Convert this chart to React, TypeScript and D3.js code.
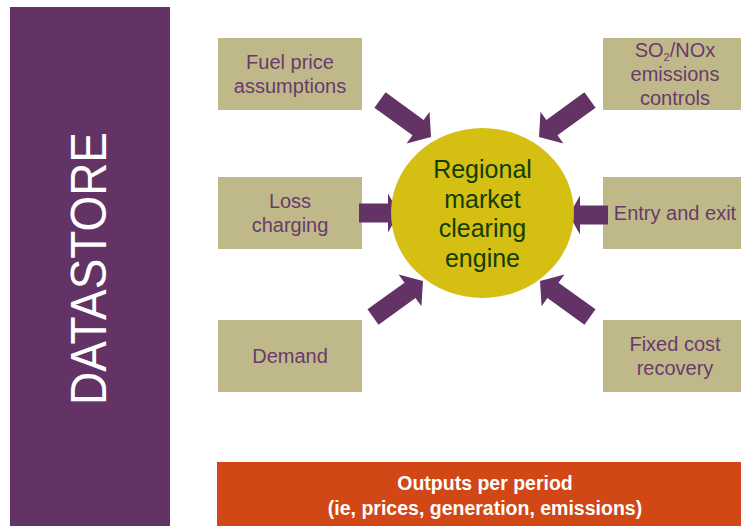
import React from 'react';
import * as d3 from 'd3';

// labels for the diagram
const storeLabel = 'DATASTORE';
const engineLines = ['Regional', 'market', 'clearing', 'engine'];
const leftInputs = [['Fuel price', 'assumptions'], ['Loss', 'charging'], ['Demand']];
const rightInputs = [['SO2/NOx', 'emissions', 'controls'], ['Entry and exit'], ['Fixed cost', 'recovery']];
const outputLines = ['Outputs per period', '(ie, prices, generation, emissions)'];

const W = 741;
const H = 526;
const FONT = '"Liberation Sans", Arial, Helvetica, sans-serif';

const PURPLE = '#643366';
const KHAKI = '#bfb98a';
const YELLOW = '#d4bf12';
const ORANGE = '#d14716';
const TEXT_PURPLE = '#6a3a6c';
const GREEN = '#123d05';

const rowY = [38, 177, 320];
const boxH = 72;

// arrow: tail centre -> tip
const arrows = [
  { from: [380, 100], to: [431, 137], head: 16 },
  { from: [590, 100], to: [539, 137], head: 16 },
  { from: [359, 213], to: [399, 213], head: 11 },
  { from: [608, 215], to: [569, 215], head: 11 },
  { from: [373, 317], to: [423, 281], head: 16 },
  { from: [590, 317], to: [540, 281], head: 16 },
];

const arrowPath = (a: { from: number[]; to: number[]; head: number }) => {
  const [x0, y0] = a.from;
  const [x1, y1] = a.to;
  const len = Math.hypot(x1 - x0, y1 - y0);
  const ux = (x1 - x0) / len;
  const uy = (y1 - y0) / len;
  const nx = -uy;
  const ny = ux;
  const sw = 9.5;
  const hw = 19.5;
  const bx = x1 - ux * a.head;
  const by = y1 - uy * a.head;
  const pts: [number, number][] = [
    [x0 + nx * sw, y0 + ny * sw],
    [bx + nx * sw, by + ny * sw],
    [bx + nx * hw, by + ny * hw],
    [x1, y1],
    [bx - nx * hw, by - ny * hw],
    [bx - nx * sw, by - ny * sw],
    [x0 - nx * sw, y0 - ny * sw],
  ];
  return d3.line()(pts) + 'Z';
};

const lineLabel = (line: string) => {
  if (line.startsWith('SO2')) {
    return (
      <>
        SO<tspan fontSize={11} dy={4}>2</tspan>
        <tspan dy={-4}>{line.slice(3)}</tspan>
      </>
    );
  }
  return line;
};

const InputBox = ({ x, w, cx, y, lines }: { x: number; w: number; cx: number; y: number; lines: string[] }) => {
  const cy = y + boxH / 2;
  return (
    <g>
      <rect x={x} y={y} width={w} height={boxH} fill={KHAKI} />
      {lines.map((l, i) => (
        <text
          key={i}
          x={cx}
          y={cy + (i - (lines.length - 1) / 2) * 24 + 7}
          textAnchor="middle"
          fontFamily={FONT}
          fontSize={20}
          fill={TEXT_PURPLE}
        >
          {lineLabel(l)}
        </text>
      ))}
    </g>
  );
};

const App = () => {
  const cx = 482.5;
  const cy = 213;
  return (
    <svg width={W} height={H} style={{ position: 'absolute', left: 0, top: 0, background: '#fff' }}>
      <rect x={10} y={7} width={160} height={H - 7} fill={PURPLE} />
      <text
        transform={`translate(106,268.5) rotate(-90)`}
        textAnchor="middle"
        fontFamily={FONT}
        fontSize={50}
        textLength={273}
        lengthAdjust="spacingAndGlyphs"
        fill="#fff"
      >
        {storeLabel}
      </text>

      {leftInputs.map((lines, i) => (
        <InputBox key={'l' + i} x={218} w={144} cx={290} y={rowY[i]} lines={lines} />
      ))}
      {rightInputs.map((lines, i) => (
        <InputBox key={'r' + i} x={603} w={W - 603} cx={675} y={rowY[i]} lines={lines} />
      ))}

      {arrows.map((a, i) => (
        <path key={i} d={arrowPath(a)} fill={PURPLE} />
      ))}

      <ellipse cx={cx} cy={cy} rx={91.5} ry={85} fill={YELLOW} />
      {engineLines.map((l, i) => (
        <text
          key={i}
          x={cx}
          y={cy + (i - 1.5) * 29.7 + 9.5}
          textAnchor="middle"
          fontFamily={FONT}
          fontSize={25}
          fill={GREEN}
        >
          {l}
        </text>
      ))}

      <rect x={217} y={462} width={W - 217} height={H - 462} fill={ORANGE} />
      {outputLines.map((l, i) => (
        <text
          key={i}
          x={485}
          y={494 + (i - 0.5) * 25 + 8.5}
          textAnchor="middle"
          fontFamily={FONT}
          fontSize={19.5}
          fontWeight="bold"
          fill="#fff"
        >
          {l}
        </text>
      ))}
    </svg>
  );
};

export default App;
